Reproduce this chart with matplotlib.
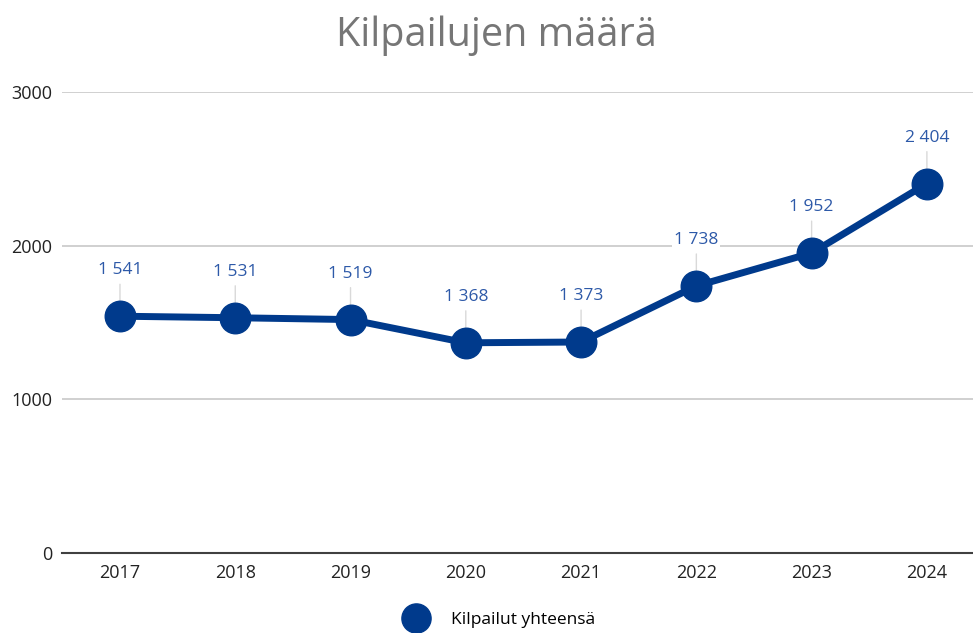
import matplotlib.pyplot as plt
from matplotlib.lines import Line2D

years = ['2017', '2018', '2019', '2020', '2021', '2022', '2023', '2024']
kilpailut = [1541, 1531, 1519, 1368, 1373, 1738, 1952, 2404]
y_ticks = [0, 1000, 2000, 3000]

navy = '#003a8c'
label_blue = '#2d59a8'

plt.rcParams['font.family'] = ['Open Sans', 'DejaVu Sans']

fig = plt.figure(figsize=(9.73, 6.33), dpi=100)
ax = fig.add_axes([62 / 973, 80 / 633, 1 - 62 / 973, 461 / 633])

x = list(range(len(years)))
ax.plot(x, kilpailut, color=navy, lw=5, marker='o', ms=22, zorder=3,
        solid_capstyle='round')

for xi, v in zip(x, kilpailut):
    txt = f'{v:,}'.replace(',', ' ')
    ax.annotate(txt, (xi, v), xytext=(0, 33), textcoords='offset points',
                ha='center', va='center', color=label_blue, fontsize=12.5,
                bbox=dict(boxstyle='square,pad=0.1', fc='white', ec='none'),
                zorder=4)
    ax.annotate('', (xi, v), xytext=(0, 23), textcoords='offset points',
                arrowprops=dict(arrowstyle='-', color='#d9d9d9', lw=1,
                                shrinkA=0, shrinkB=10), zorder=2)

ax.set_xlim(-0.503, 7.40)
ax.set_ylim(0, 3000)
ax.set_yticks(y_ticks)
ax.set_xticks(x)
ax.set_xticklabels(years)
ax.yaxis.grid(True, color='#c8c8c8', lw=1.2)
ax.set_axisbelow(True)
for s in ['top', 'right', 'left']:
    ax.spines[s].set_visible(False)
ax.spines['bottom'].set_color('#404040')
ax.spines['bottom'].set_linewidth(1.5)
ax.tick_params(axis='both', length=0, labelsize=13, colors='#222222')
ax.tick_params(axis='y', pad=7)
ax.tick_params(axis='x', pad=8)

fig.text(496 / 973, 1 - 36 / 633, 'Kilpailujen määrä', ha='center', va='center',
         fontsize=28.5, color='#767676')

handle = Line2D([], [], color=navy, marker='o', ms=21, lw=0)
fig.legend([handle], ['Kilpailut yhteensä'], loc='center',
           bbox_to_anchor=(497 / 973, 1 - 620 / 633), frameon=False,
           fontsize=12.5, handletextpad=1.0)

fig.savefig('out.png', dpi=100)
